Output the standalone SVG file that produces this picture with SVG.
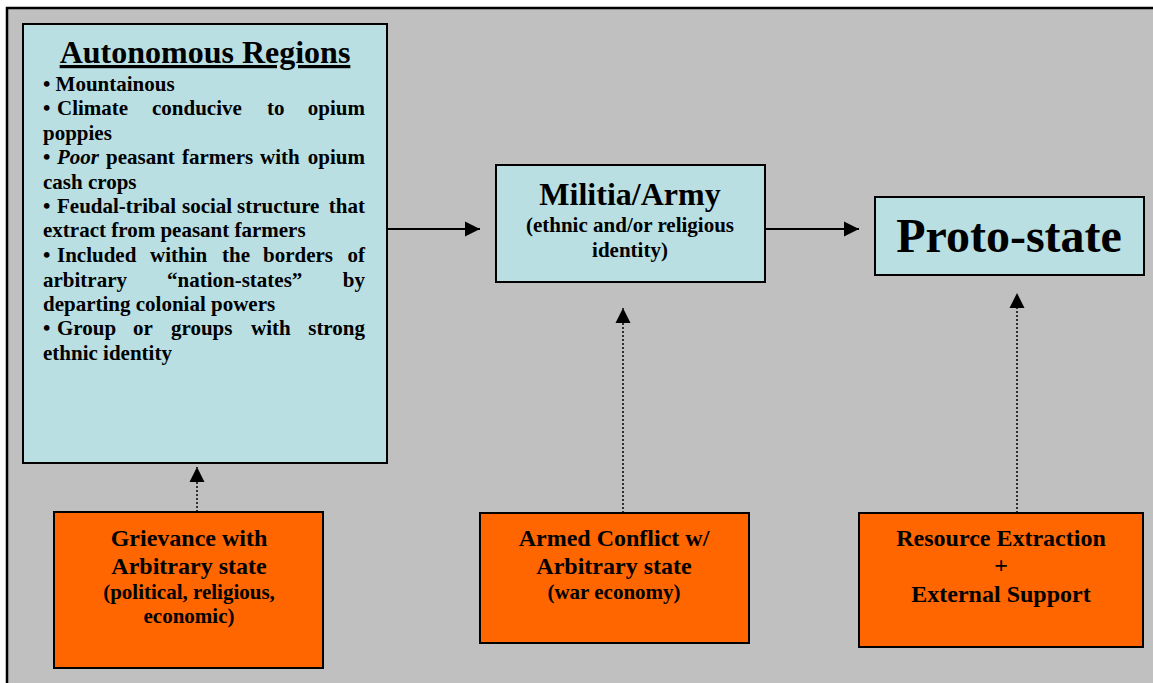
<svg xmlns="http://www.w3.org/2000/svg" width="1153" height="683" viewBox="0 0 1153 683">
<style>
text{font-family:"Liberation Serif","Times New Roman",serif;font-weight:bold;fill:#000}
.blue{fill:#B9DFE3;stroke:#000;stroke-width:2}
.orange{fill:#FF6600;stroke:#000;stroke-width:2}
.c{text-anchor:middle}
.e{text-anchor:end}
.b{font-size:21px}
.solid{stroke:#000;stroke-width:2;fill:none}
.dot{stroke:#000;stroke-width:1.5;fill:none;stroke-dasharray:2 2}
</style>
<defs>
<marker id="ah" markerUnits="userSpaceOnUse" markerWidth="16" markerHeight="16" viewBox="0 0 16 16" refX="15" refY="8" orient="auto">
<polygon points="0,0.5 15,8 0,15.5" fill="#000"/>
</marker>
</defs>
<rect x="0" y="0" width="1153" height="683" fill="#fff"/>
<rect x="7" y="8" width="1170" height="700" fill="#C0C0C0" stroke="#000" stroke-width="2.5"/>

<g id="connectors">
<line class="solid" x1="387" y1="229" x2="480" y2="229" marker-end="url(#ah)"/>
<line class="solid" x1="765" y1="229" x2="859" y2="229" marker-end="url(#ah)"/>
<line class="dot" x1="197" y1="512" x2="197" y2="467" marker-end="url(#ah)"/>
<line class="dot" x1="623" y1="513" x2="623" y2="308" marker-end="url(#ah)"/>
<line class="dot" x1="1017" y1="513" x2="1017" y2="293" marker-end="url(#ah)"/>
</g>

<g id="autonomous">
<rect class="blue" x="23" y="24" width="364" height="439"/>
<text class="c" x="205" y="63" font-size="32" text-decoration="underline">Autonomous Regions</text>
<g class="b">
<text x="43" y="91">• Mountainous</text>
<text y="115"><tspan x="43">•</tspan><tspan x="57">Climate</tspan><tspan x="152">conducive</tspan><tspan x="267">to</tspan></text>
<text class="e" x="365" y="115">opium</text>
<text x="43" y="139.5">poppies</text>
<text y="164"><tspan x="43">•</tspan><tspan x="57" font-style="italic">Poor</tspan><tspan x="106">peasant</tspan><tspan x="182">farmers</tspan><tspan x="260">with</tspan></text>
<text class="e" x="365" y="164">opium</text>
<text x="43" y="188.5">cash crops</text>
<text y="213"><tspan x="43">•</tspan><tspan x="57">Feudal-tribal</tspan><tspan x="182">social</tspan><tspan x="237">structure</tspan></text>
<text class="e" x="365" y="213">that</text>
<text x="43" y="237">extract from peasant farmers</text>
<text y="262"><tspan x="43">•</tspan><tspan x="57">Included</tspan><tspan x="150">within</tspan><tspan x="222">the</tspan><tspan x="263">borders</tspan></text>
<text class="e" x="365" y="262">of</text>
<text y="286.5"><tspan x="43">arbitrary</tspan><tspan x="167">“nation-states”</tspan></text>
<text class="e" x="365" y="286.5">by</text>
<text x="43" y="311">departing colonial powers</text>
<text y="335"><tspan x="43">•</tspan><tspan x="57">Group</tspan><tspan x="133">or</tspan><tspan x="171">groups</tspan><tspan x="251">with</tspan></text>
<text class="e" x="365" y="335">strong</text>
<text x="43" y="359.5">ethnic identity</text>
</g>
</g>

<g id="militia">
<rect class="blue" x="496" y="165" width="269" height="117"/>
<text class="c" x="630" y="205" font-size="32">Militia/Army</text>
<text class="c b" x="630" y="232">(ethnic and/or religious</text>
<text class="c b" x="630" y="257">identity)</text>
</g>

<g id="protostate">
<rect class="blue" x="875" y="197" width="269" height="78"/>
<text class="c" x="1009" y="252" font-size="48">Proto-state</text>
</g>

<g id="grievance">
<rect class="orange" x="54" y="512" width="269" height="156"/>
<text class="c" x="189" y="546" font-size="24">Grievance with</text>
<text class="c" x="189" y="574" font-size="24">Arbitrary state</text>
<text class="c b" x="189" y="599">(political, religious,</text>
<text class="c b" x="189" y="623">economic)</text>
</g>

<g id="armed">
<rect class="orange" x="480" y="513" width="269" height="130"/>
<text class="c" x="614" y="546" font-size="24">Armed Conflict w/</text>
<text class="c" x="614" y="573.5" font-size="24">Arbitrary state</text>
<text class="c b" x="614" y="598.5">(war economy)</text>
</g>

<g id="resource">
<rect class="orange" x="859" y="513" width="284" height="134"/>
<text class="c" x="1001" y="546" font-size="24">Resource Extraction</text>
<text class="c" x="1001" y="573" font-size="24" font-weight="normal">+</text>
<text class="c" x="1001" y="602" font-size="24">External Support</text>
</g>
</svg>
